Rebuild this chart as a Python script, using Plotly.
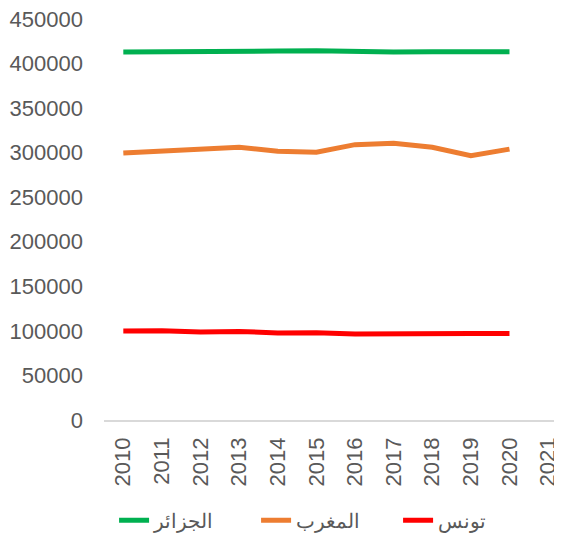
import plotly.graph_objects as go

years = list(range(2010, 2021))
tick_years = list(range(2010, 2022))
algeria = [413000, 413000, 414000, 414000, 414000, 414500, 413500, 413000, 413200, 413200, 413200]
morocco = [299500, 301500, 304000, 306000, 301500, 300500, 309000, 310500, 306000, 296500, 304000]
tunisia = [100000, 100200, 98800, 99400, 97600, 98000, 96600, 97200, 96900, 97200, 97200]

names = ["الجزائر", "المغرب", "تونس"]
colors = ["#00B050", "#ED7D31", "#FF0000"]

fig = go.Figure()
for name, vals, col in zip(names, [algeria, morocco, tunisia], colors):
    fig.add_trace(go.Scatter(x=years, y=vals, name=name, mode="lines",
                             line=dict(color=col, width=5)))

font = dict(family="Liberation Sans, Arial", size=22, color="#595959")
legend_font = dict(family="Liberation Sans, Arial", size=20, color="#595959")
# page body has an 8px margin: figure is sized 554x532 so it fits the window
fig.update_layout(
    width=554, height=532,
    margin=dict(l=96, r=0, t=11, b=120, autoexpand=False),
    paper_bgcolor="white", plot_bgcolor="white",
    font=font,
    showlegend=True,
    legend=dict(orientation="h", x=0.022, xanchor="left", y=-0.25, yanchor="middle",
                font=legend_font, traceorder="normal", entrywidth=97,
                entrywidthmode="pixels"),
    xaxis=dict(range=[2009.5, 2021.36], tickmode="array", tickvals=tick_years,
               ticktext=[str(y) for y in tick_years], tickangle=-90,
               showgrid=False, showline=True, linecolor="#D9D9D9", linewidth=1.5,
               ticks="", zeroline=False, tickfont=font, automargin=False,
               ticklabelstandoff=7, ticklabeloverflow="allow"),
    yaxis=dict(range=[0, 450000], dtick=50000, tickformat="d", showgrid=False,
               showline=False, zeroline=False, ticks="", tickfont=font,
               automargin=False, ticklabelstandoff=20, ticklabeloverflow="allow"),
)
fig.write_html("out.html")
